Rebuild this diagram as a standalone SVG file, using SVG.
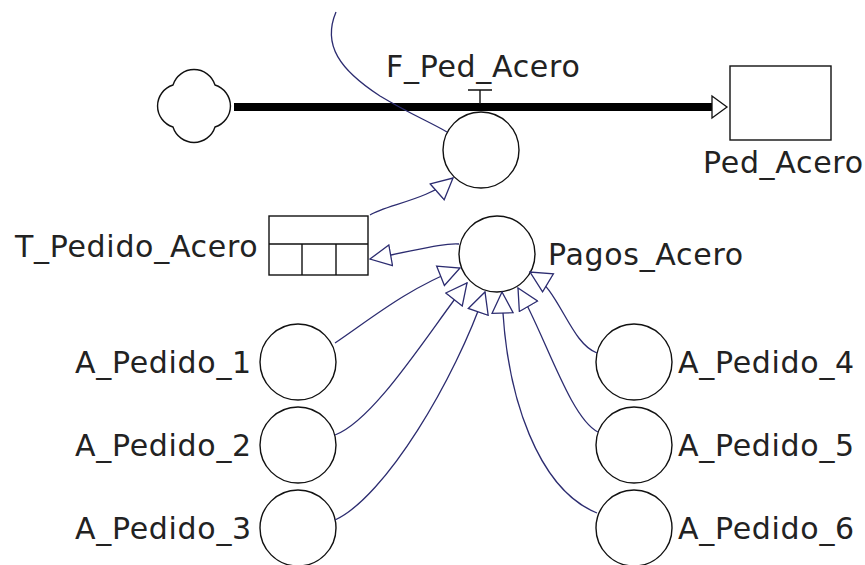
<svg xmlns="http://www.w3.org/2000/svg" width="865" height="565" viewBox="0 0 865 565">
<defs>
<style>
.shape{fill:#fff;stroke:#111;stroke-width:1.4}
.lbl{font-family:"DejaVu Sans","Liberation Sans",sans-serif;font-size:30px;letter-spacing:0.7px;fill:#222}
.conn{fill:none;stroke:#2c2c70;stroke-width:1.3}
</style>
<marker id="arr" viewBox="-1 -1 23 23" refX="21" refY="10.5" markerWidth="23" markerHeight="23" markerUnits="userSpaceOnUse" orient="auto">
<path d="M0,0 L21,10.5 L0,21 Z" fill="#fff" stroke="#2c2c70" stroke-width="1.3"/>
</marker>
</defs>
<rect width="865" height="565" fill="#fff"/>

<g id="flow-pipe">
<line x1="234" y1="107" x2="712" y2="107" stroke="#000" stroke-width="8"/>
<path d="M712,96 L727,107 L712,118 Z" fill="#fff" stroke="#111" stroke-width="1.3"/>
</g>

<g id="cloud">
<path class="shape" d="M215,85 A22,22 0 0 1 215,127 A22,22 0 0 1 173,127 A22,22 0 0 1 173,85 A22,22 0 0 1 215,85 Z"/>
</g>

<g id="Ped_Acero">
<rect class="shape" x="730" y="66" width="101" height="74"/>
<text class="lbl" x="703" y="173">Ped_Acero</text>
</g>

<g id="F_Ped_Acero">
<path d="M468,90 L492,90 M480,90 L480,104" stroke="#111" stroke-width="1.4" fill="none"/>
<circle class="shape" cx="481" cy="150" r="38"/>
<text class="lbl" x="386" y="77">F_Ped_Acero</text>
</g>

<g id="T_Pedido_Acero">
<rect class="shape" x="269" y="216" width="99" height="59"/>
<path d="M269,244 L368,244 M302,244 L302,275 M336,244 L336,275" stroke="#111" stroke-width="1.4" fill="none"/>
<text class="lbl" x="15" y="257">T_Pedido_Acero</text>
</g>

<g id="Pagos_Acero">
<circle class="shape" cx="497" cy="254" r="38"/>
<text class="lbl" x="548" y="265">Pagos_Acero</text>
</g>

<g id="A_Pedido_1">
<circle class="shape" cx="298" cy="362" r="38"/>
<text class="lbl" x="75" y="373">A_Pedido_1</text>
</g>
<g id="A_Pedido_2">
<circle class="shape" cx="298" cy="445" r="38"/>
<text class="lbl" x="75" y="456">A_Pedido_2</text>
</g>
<g id="A_Pedido_3">
<circle class="shape" cx="298" cy="528" r="38"/>
<text class="lbl" x="75" y="539">A_Pedido_3</text>
</g>
<g id="A_Pedido_4">
<circle class="shape" cx="634" cy="362" r="38"/>
<text class="lbl" x="678" y="373">A_Pedido_4</text>
</g>
<g id="A_Pedido_5">
<circle class="shape" cx="634" cy="445" r="38"/>
<text class="lbl" x="678" y="456">A_Pedido_5</text>
</g>
<g id="A_Pedido_6">
<circle class="shape" cx="634" cy="528" r="38"/>
<text class="lbl" x="678" y="539">A_Pedido_6</text>
</g>

<g id="connectors">
<path class="conn" d="M336,12 C322,45 340,70 380,96 C410,114 430,122 447,132"/>
<path class="conn" marker-end="url(#arr)" d="M370,215 C385,205 428,200 453,178"/>
<path class="conn" marker-end="url(#arr)" d="M459,244 C440,243 415,251 370,259"/>
<path class="conn" marker-end="url(#arr)" d="M335,343 C372,318 405,290 460,268"/>
<path class="conn" marker-end="url(#arr)" d="M335,435 C375,420 430,330 467,283"/>
<path class="conn" marker-end="url(#arr)" d="M335,520 C385,497 455,380 485,292"/>
<path class="conn" marker-end="url(#arr)" d="M597,513 C540,490 505,400 502,292"/>
<path class="conn" marker-end="url(#arr)" d="M598,432 C570,418 545,335 518,288"/>
<path class="conn" marker-end="url(#arr)" d="M597,353 C570,343 560,290 530,272"/>
</g>
</svg>
